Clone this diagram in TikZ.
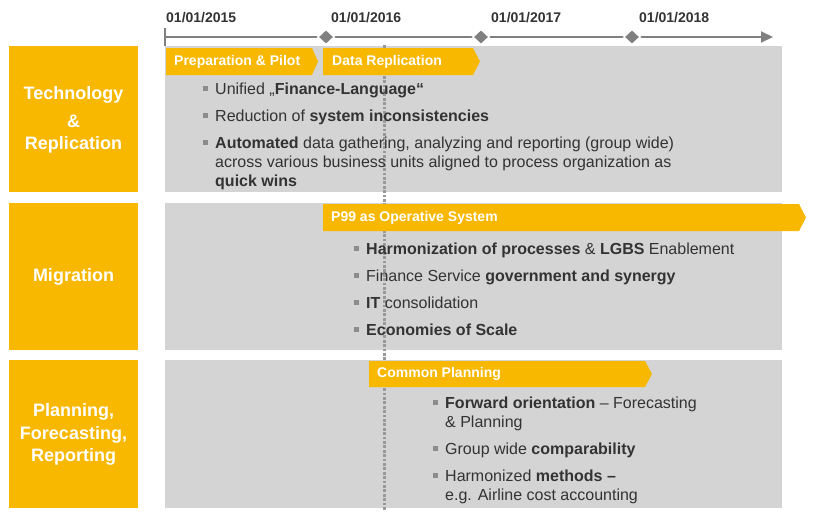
\documentclass[tikz,border=0pt]{standalone}
\usepackage{fontspec}
\setmainfont{Liberation Sans}
\usetikzlibrary{arrows.meta,shapes.geometric}
\definecolor{org}{HTML}{F8B800}
\definecolor{pan}{HTML}{D4D4D4}
\definecolor{txt}{HTML}{333333}
\definecolor{tl}{HTML}{808080}
\definecolor{bulc}{HTML}{8C8C8C}
\definecolor{dsh}{HTML}{999999}
\tikzset{
  panel/.style={fill=pan, draw=none},
  lbox/.style={fill=org, draw=none},
  chev/.style={fill=org, draw=none},
  ltxt/.style={text=white, font=\fontsize{18}{21}\selectfont\bfseries, inner sep=0, align=center},
  ctxt/.style={text=white, font=\fontsize{14}{16}\selectfont\bfseries, inner sep=0, anchor=west},
  dtxt/.style={text=txt, font=\fontsize{14}{16}\selectfont\bfseries, inner sep=0, anchor=west},
  btxt/.style={text=txt, font=\fontsize{16}{19}\selectfont, inner sep=0, anchor=base west},
  bul/.style={fill=bulc, draw=none, minimum size=5pt, inner sep=0, rectangle},
  dia/.style={fill=tl, draw=white, line width=1.5pt, diamond, minimum width=17pt, minimum height=16pt, inner sep=0}
}
\begin{document}
\begin{tikzpicture}[x=1pt,y=-1pt]
\useasboundingbox (0,0) rectangle (820,530);
\fill[white] (0,0) rectangle (820,530);
% left boxes
\fill[lbox] (9,46) rectangle (138,192);
\fill[lbox] (9,203) rectangle (138,350);
\fill[lbox] (9,360) rectangle (138,508);
\node[ltxt] (l1a) at (73.5,95) {Technology};
\node[ltxt] (l1b) at (73.5,121) {\&};
\node[ltxt] (l1c) at (73.5,145) {Replication};
\node[ltxt] (l2) at (73.5,277) {Migration};
\node[ltxt] (l3a) at (73.5,412) {Planning,};
\node[ltxt] (l3b) at (73.5,434.5) {Forecasting,};
\node[ltxt] (l3c) at (73.5,457) {Reporting};
% panels
\fill[panel] (165,46) rectangle (782,192);
\fill[panel] (165,203) rectangle (782,350);
\fill[panel] (165,360) rectangle (782,508);
% dashed line
\coordinate (dtop) at (384,45);
\coordinate (dbot) at (384,511);
\draw[dsh, line width=3pt, dash pattern=on 2.8pt off 1.6pt] (dtop) -- (dbot);
% timeline
\coordinate (t0) at (165,37);
\coordinate (tend) at (773,37);
\coordinate (tk1) at (165,28);
\coordinate (tk2) at (165,46);
\draw[tl, line width=2pt, -{Triangle[length=12pt,width=11pt]}] (t0) -- (tend);
\draw[tl, line width=2.5pt] (tk1) -- (tk2);
\node[dia] (d1) at (326,37) {};
\node[dia] (d2) at (481,37) {};
\node[dia] (d3) at (632,37) {};
\node[dtxt] (y1) at (166,18) {01/01/2015};
\node[dtxt] (y2) at (331,18) {01/01/2016};
\node[dtxt] (y3) at (491,18) {01/01/2017};
\node[dtxt] (y4) at (639,18) {01/01/2018};
% chevrons
\fill[chev] (166,48) -- (312,48) -- (318,61.5) -- (312,75) -- (166,75) -- cycle;
\fill[chev] (323,48) -- (473,48) -- (480,61.5) -- (473,75) -- (323,75) -- cycle;
\fill[chev] (323,204) -- (799,204) -- (806,217.5) -- (799,231) -- (323,231) -- cycle;
\fill[chev] (369,361) -- (645,361) -- (652,374) -- (645,387) -- (369,387) -- cycle;
\node[ctxt] (c1) at (174,62) {Preparation \& Pilot};
\node[ctxt] (c2) at (332,62) {Data Replication};
\node[ctxt] (c3) at (331,217.5) {P99 as Operative System};
\node[ctxt] (c4) at (377,374) {Common Planning};
% row 1 bullets
\node[bul] (b1a) at (205.5,88.5) {};
\node[btxt] (t1a) at (215,94) {Unified „\textbf{Finance-Language“}};
\node[bul] (b1b) at (205.5,115.5) {};
\node[btxt] (t1b) at (215,121) {Reduction of \textbf{system inconsistencies}};
\node[bul] (b1c) at (205.5,142.5) {};
\node[btxt] (t1c) at (215,148) {\textbf{Automated} data gathering, analyzing and reporting (group wide)};
\node[btxt] (t1d) at (215,167) {across various business units aligned to process organization as};
\node[btxt] (t1e) at (215,186) {\textbf{quick wins}};
% row 2 bullets
\node[bul] (b2a) at (356,248.5) {};
\node[btxt] (t2a) at (366,254) {\textbf{Harmonization of processes} \& \textbf{LGBS} Enablement};
\node[bul] (b2b) at (356,275.5) {};
\node[btxt] (t2b) at (366,281) {Finance Service \textbf{government and synergy}};
\node[bul] (b2c) at (356,302.5) {};
\node[btxt] (t2c) at (366,308) {\textbf{IT} consolidation};
\node[bul] (b2d) at (356,329.5) {};
\node[btxt] (t2d) at (366,335) {\textbf{Economies of Scale}};
% row 3 bullets
\node[bul] (b3a) at (435,402.5) {};
\node[btxt] (t3a) at (445,408) {\textbf{Forward orientation} – Forecasting};
\node[btxt] (t3b) at (445,427) {\& Planning};
\node[bul] (b3c) at (435,448.5) {};
\node[btxt] (t3c) at (445,454) {Group wide \textbf{comparability}};
\node[bul] (b3d) at (435,475.5) {};
\node[btxt] (t3d) at (445,481) {Harmonized \textbf{methods –}};
\node[btxt] (t3e) at (445,500) {e.g. Airline cost accounting};
\end{tikzpicture}
\end{document}
